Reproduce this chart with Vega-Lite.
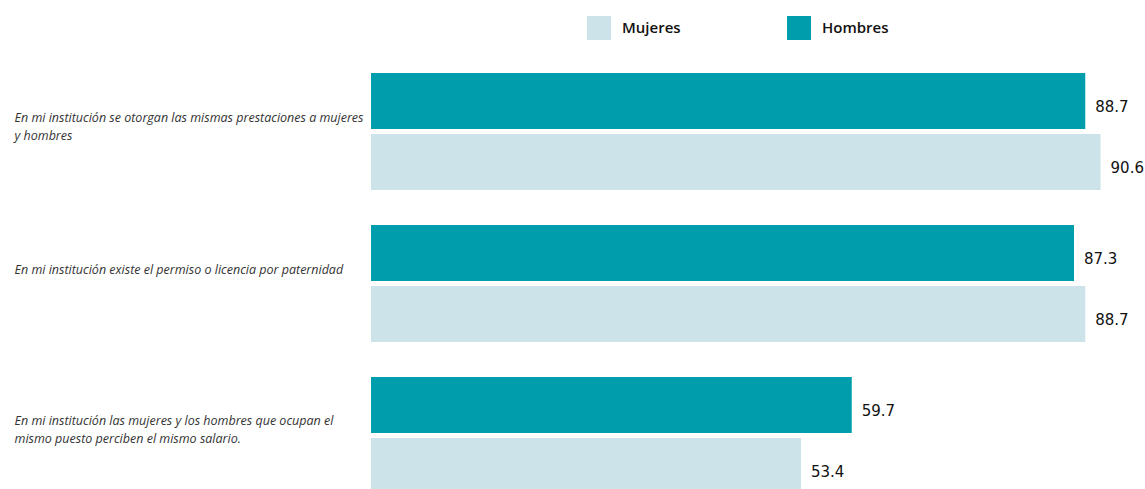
{
  "$schema": "https://vega.github.io/schema/vega-lite/v6.json",
  "autosize": {"type": "none"},
  "padding": {"left": 371, "top": 73, "right": 9, "bottom": 0},
  "width": 765,
  "height": 421,
  "background": "white",
  "config": {"view": {"stroke": null}},
  "data": {
    "values": [
      {"pregunta": "En mi institución se otorgan las mismas prestaciones a mujeres\ny hombres", "sexo": "Hombres", "valor": 88.7},
      {"pregunta": "En mi institución se otorgan las mismas prestaciones a mujeres\ny hombres", "sexo": "Mujeres", "valor": 90.6},
      {"pregunta": "En mi institución existe el permiso o licencia por paternidad", "sexo": "Hombres", "valor": 87.3},
      {"pregunta": "En mi institución existe el permiso o licencia por paternidad", "sexo": "Mujeres", "valor": 88.7},
      {"pregunta": "En mi institución las mujeres y los hombres que ocupan el\nmismo puesto perciben el mismo salario.", "sexo": "Hombres", "valor": 59.7},
      {"pregunta": "En mi institución las mujeres y los hombres que ocupan el\nmismo puesto perciben el mismo salario.", "sexo": "Mujeres", "valor": 53.4}
    ]
  },
  "encoding": {
    "y": {
      "field": "pregunta",
      "type": "nominal",
      "sort": null,
      "scale": {"paddingInner": 0.23, "paddingOuter": 0},
      "axis": {
        "title": null,
        "domain": false,
        "ticks": false,
        "tickSize": 0,
        "labelAlign": "left",
        "labelPadding": 357,
        "labelOffset": -14,
        "labelFont": "Open Sans",
        "labelFontStyle": "italic",
        "labelFontSize": 12.5,
        "labelColor": "#333333",
        "labelLineHeight": 18,
        "labelLimit": 400,
        "labelExpr": "split(datum.label, '\\n')"
      }
    },
    "yOffset": {
      "field": "sexo",
      "type": "nominal",
      "sort": ["Hombres", "Mujeres"],
      "scale": {"paddingInner": 0.082, "paddingOuter": 0}
    },
    "x": {
      "field": "valor",
      "type": "quantitative",
      "scale": {"domain": [0, 95]},
      "axis": null
    }
  },
  "layer": [
    {
      "mark": {"type": "bar"},
      "encoding": {
        "color": {
          "field": "sexo",
          "type": "nominal",
          "scale": {"domain": ["Mujeres", "Hombres"], "range": ["#cce4e9", "#009eac"]},
          "legend": {
            "title": null,
            "orient": "none",
            "direction": "horizontal",
            "legendX": 216,
            "legendY": -57,
            "symbolType": "square",
            "symbolSize": 576,
            "symbolStrokeWidth": 0,
            "labelFont": "Open Sans",
            "labelFontSize": 15,
            "labelFontWeight": 600,
            "labelColor": "#111111",
            "labelOffset": 11,
            "columnPadding": 106,
            "padding": 0
          }
        }
      }
    },
    {
      "mark": {"type": "text", "align": "left", "baseline": "middle", "dx": 10, "dy": 6, "font": "DejaVu Sans", "fontSize": 15, "color": "#111111"},
      "encoding": {
        "text": {"field": "valor", "type": "quantitative", "format": ".1f"}
      }
    }
  ]
}
